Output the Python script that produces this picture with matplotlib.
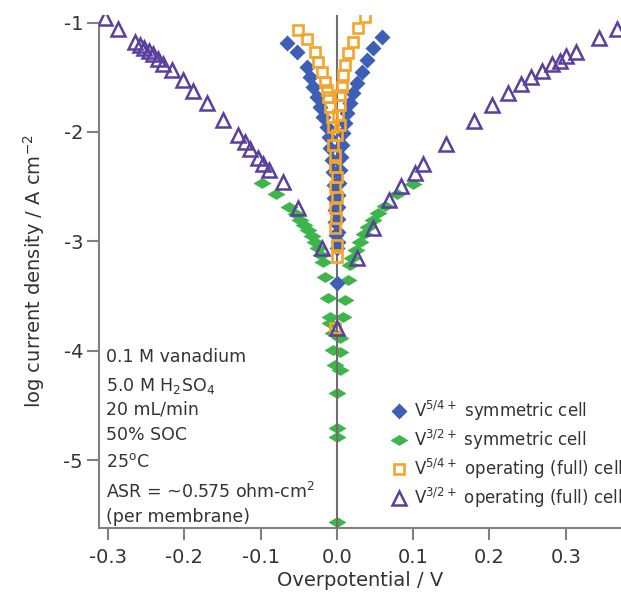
import numpy as np
import matplotlib.pyplot as plt

plt.rcParams['axes.unicode_minus'] = False

# V5/4+ symmetric cell (blue filled diamonds)
blue_x = [-0.0655, -0.052, -0.039, -0.035, -0.031, -0.026, -0.022, -0.018, -0.013, -0.011,
          -0.009, -0.007, -0.005, -0.004, -0.004, -0.003, -0.003, -0.001, 0.0, 0.0,
          0.059, 0.047, 0.039, 0.033, 0.026, 0.021, 0.017, 0.013, 0.010, 0.008,
          0.006, 0.005, 0.004, 0.003, 0.002, 0.002, 0.001, 0.001, 0.001]
blue_y = [-1.183, -1.265, -1.403, -1.494, -1.586, -1.677, -1.769, -1.860, -1.952, -2.043,
          -2.144, -2.253, -2.363, -2.482, -2.601, -2.711, -2.821, -2.940, -3.059, -3.379,
          -1.128, -1.229, -1.339, -1.448, -1.549, -1.640, -1.732, -1.823, -1.915, -2.006,
          -2.116, -2.226, -2.345, -2.464, -2.580, -2.690, -2.800, -2.910, -3.010]

# V3/2+ symmetric cell (green flat diamonds)
green_x = [-0.098, -0.080, -0.063, -0.054, -0.048, -0.043, -0.038, -0.033, -0.029, -0.025,
           -0.021, -0.018, -0.016, -0.012,
           0.017, 0.020, 0.025, 0.030, 0.035, 0.041, 0.047, 0.054, 0.063, 0.079, 0.100,
           0.014, 0.010, -0.009, 0.008, -0.009, -0.005, 0.004, -0.005, 0.004, -0.003,
           0.004, 0.0, 0.0, 0.0, 0.0]
green_y = [-2.464, -2.564, -2.683, -2.747, -2.802, -2.848, -2.894, -2.949, -3.004, -3.059,
           -3.123, -3.187, -3.324, -3.516,
           -3.214, -3.150, -3.077, -3.004, -2.930, -2.866, -2.802, -2.738, -2.674, -2.564, -2.473,
           -3.351, -3.534, -3.690, -3.690, -3.745, -3.836, -3.882, -3.992, -4.010, -4.129,
           -4.175, -4.385, -4.705, -4.788, -5.565]

# V5/4+ operating (full) cell (orange open squares)
orange_x = [-0.051, -0.039, -0.029, -0.025, -0.020, -0.016, -0.013, -0.012, -0.009, -0.007, -0.005,
            0.037, 0.028, 0.021, 0.014, 0.010, 0.008, 0.007, 0.004, 0.004, 0.001, 0.004,
            0.0, -0.005, -0.003, -0.003, 0.0, -0.003, 0.0, -0.003, -0.001, -0.003, 0.0, 0.0, -0.003]
orange_y = [-1.064, -1.146, -1.265, -1.357, -1.448, -1.540, -1.613, -1.677, -1.769, -1.860, -1.952,
            -0.945, -1.046, -1.174, -1.274, -1.384, -1.476, -1.586, -1.659, -1.750, -1.842, -1.933,
            -2.025, -2.116, -2.208, -2.317, -2.409, -2.500, -2.592, -2.693, -2.784, -2.876, -3.031, -3.141, -3.790]

# V3/2+ operating (full) cell (purple open triangles)
purple_x = [-0.304, -0.287, -0.265, -0.258, -0.253, -0.246, -0.241, -0.234, -0.228, -0.216,
            -0.202, -0.189, -0.170, -0.149, -0.130, -0.121, -0.114, -0.104, -0.097, -0.089,
            -0.071, -0.051, -0.020, 0.0,
            0.026, 0.047, 0.068, 0.084, 0.102, 0.113, 0.143, 0.180, 0.204, 0.224,
            0.241, 0.254, 0.269, 0.282, 0.292, 0.301, 0.313, 0.343, 0.367]
purple_y = [-0.954, -1.055, -1.174, -1.201, -1.229, -1.256, -1.284, -1.329, -1.375, -1.430,
            -1.522, -1.622, -1.732, -1.887, -2.025, -2.089, -2.153, -2.235, -2.290, -2.345,
            -2.455, -2.693, -3.059, -3.790,
            -3.150, -2.876, -2.619, -2.491, -2.372, -2.290, -2.107, -1.897, -1.750, -1.641,
            -1.558, -1.494, -1.439, -1.375, -1.348, -1.302, -1.265, -1.137, -1.055]

notes = ['0.1 M vanadium', r'5.0 M H$_2$SO$_4$', '20 mL/min', '50% SOC',
         r'25$^{\rm o}$C', r'ASR = ~0.575 ohm-cm$^2$', '(per membrane)']
xticks = [-0.3, -0.2, -0.1, 0.0, 0.1, 0.2, 0.3]
yticks = [-1, -2, -3, -4, -5]

gray = '#808080'
txt = '#333333'
flat_diamond = [(-1, 0), (0, 0.6), (1, 0), (0, -0.6), (-1, 0)]

fig = plt.figure(figsize=(6.21, 5.97), dpi=100)
ax = fig.add_axes([0.1594, 0.1156, 0.8406, 0.8594])

ax.plot(green_x, green_y, ls='none', marker=flat_diamond, ms=13, color='#3cb54a',
        mec='none', zorder=2, label=r'V$^{3/2+}$ symmetric cell')
ax.axvline(0, color='#6e6e6e', lw=1.5, zorder=3)
ax.plot(blue_x, blue_y, ls='none', marker='D', ms=8.5, color='#3d5fb5',
        mec='none', zorder=4, label=r'V$^{5/4+}$ symmetric cell')
ax.plot(orange_x, orange_y, ls='none', marker='s', ms=7, mfc='none', mec='#f5a42c',
        mew=1.9, zorder=5, label=r'V$^{5/4+}$ operating (full) cell')
ax.plot(purple_x, purple_y, ls='none', marker='^', ms=10, mfc='none', mec='#5b3f9e',
        mew=1.8, zorder=6, label=r'V$^{3/2+}$ operating (full) cell')

ax.set_xlim(-0.312, 0.3725)
ax.set_ylim(-5.62, -0.93)
for s in ['top', 'right']:
    ax.spines[s].set_visible(False)
for s in ['left', 'bottom']:
    ax.spines[s].set_color(gray)
    ax.spines[s].set_linewidth(1.5)
ax.spines['left'].set_bounds(-5.62, -1)
ax.set_xticks(xticks)
ax.set_xticklabels(['%.1f' % v for v in xticks])
ax.set_yticks(yticks)
ax.tick_params(axis='both', color=gray, width=1.5, length=8.5, labelsize=14,
               labelcolor=txt)
ax.tick_params(axis='x', pad=6)
ax.tick_params(axis='y', pad=3)
ax.set_xlabel('Overpotential / V', fontsize=14, color=txt, labelpad=3)
ax.set_ylabel(r'log current density / A cm$^{-2}$', fontsize=14, color=txt, labelpad=12)

for i, t in enumerate(notes):
    ypx = [357, 386, 410, 435, 462, 492, 517][i]
    fig.text(106 / 621, 1 - ypx / 597, t, fontsize=12.5, color=txt, va='center', ha='left')

h, l = ax.get_legend_handles_labels()
order = [1, 0, 2, 3]
ax.legend([h[i] for i in order], [l[i] for i in order], loc='upper left',
          bbox_to_anchor=(382 / 621, 1 - 392 / 597), bbox_transform=fig.transFigure,
          frameon=False, fontsize=12, handletextpad=0.3, labelspacing=0.3,
          handlelength=1.2, labelcolor=txt, borderaxespad=0)

fig.savefig('out.png', dpi=100)
